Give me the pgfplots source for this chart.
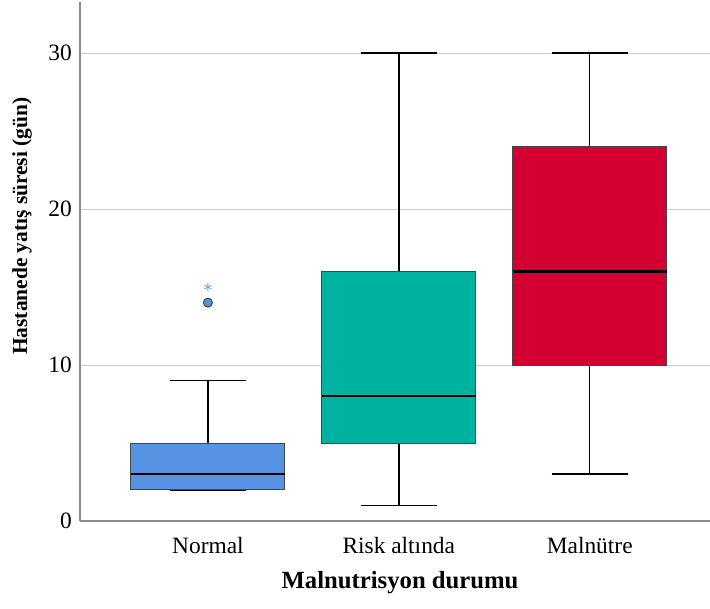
\documentclass[border=0pt]{standalone}
\usepackage{fontspec}
\setmainfont{Liberation Serif}
\usepackage{pgfplots}
\pgfplotsset{compat=1.18}
\usepgfplotslibrary{statistics}
\definecolor{nblue}{HTML}{5694E3}
\definecolor{nteal}{HTML}{00B2A0}
\definecolor{nred}{HTML}{D50032}
\definecolor{boxborder}{HTML}{444444}
\definecolor{gridc}{HTML}{CCCCCC}
\definecolor{axc}{HTML}{8C8C8C}
\begin{document}
\begin{tikzpicture}
\begin{axis}[
  at={(0,0)}, anchor=south west,
  scale only axis,
  width=630bp, height=519bp,
  xmin=-0.67, xmax=2.63,
  ymin=0, ymax=33.27,
  axis x line*=bottom, axis y line*=left,
  axis line style={draw=axc, line width=1.2bp, -},
  xtick={0,1,2},
  xticklabels={Normal, Risk altında, Malnütre},
  ytick={0,10,20,30},
  ymajorgrids,
  grid style={gridc, line width=1bp},
  major tick length=0pt,
  /pgf/number format/assume math mode=true,
  tick label style={font=\fontsize{23.5}{27}\selectfont},
  xticklabel style={anchor=base, inner sep=0pt, yshift=-32bp},
  yticklabel style={anchor=east, inner sep=0pt, xshift=-8bp},
  xlabel={\textbf{Malnutrisyon durumu}},
  ylabel={\textbf{Hastanede yatış süresi (gün)}},
  xlabel style={at={(rel axis cs:0.508,0)}, anchor=center, yshift=-62bp, font=\fontsize{24.8}{28}\selectfont, inner sep=0pt},
  ylabel style={at={(rel axis cs:0,0.568)}, anchor=center, yshift=58bp, font=\fontsize{21.5}{26}\selectfont, inner sep=0pt},
  boxplot/draw direction=y,
  boxplot/box extend=0.806,
  boxplot/whisker extend=0.4,
  boxplot/every box/.style={draw=boxborder, line width=1bp},
  boxplot/every whisker/.style={draw=black, line width=1.5bp},
  boxplot/every median/.style={draw=black, line width=2.2bp},
  clip=false,
]
\addplot[fill=nblue, boxplot prepared={draw position=0, lower whisker=2, lower quartile=2, median=3, upper quartile=5, upper whisker=9}] coordinates {};
\addplot[fill=nteal, boxplot prepared={draw position=1, lower whisker=1, lower quartile=5, median=8, upper quartile=16, upper whisker=30}] coordinates {};
\addplot[fill=nred, boxplot prepared={draw position=2, lower whisker=3, lower quartile=10, median=16, upper quartile=24, upper whisker=30}] coordinates {};
\addplot[only marks, mark=*, mark size=4.5bp, mark options={fill=nblue, draw=boxborder, line width=1bp}] coordinates {(0,14)};
\addplot[only marks, mark=asterisk, mark size=4bp, mark options={draw=nblue!80!white, line width=1bp}] coordinates {(0,15)};
\end{axis}
\pgfresetboundingbox
\path[use as bounding box] (-80bp,-88bp) rectangle (630bp,521bp);
\end{tikzpicture}
\end{document}
